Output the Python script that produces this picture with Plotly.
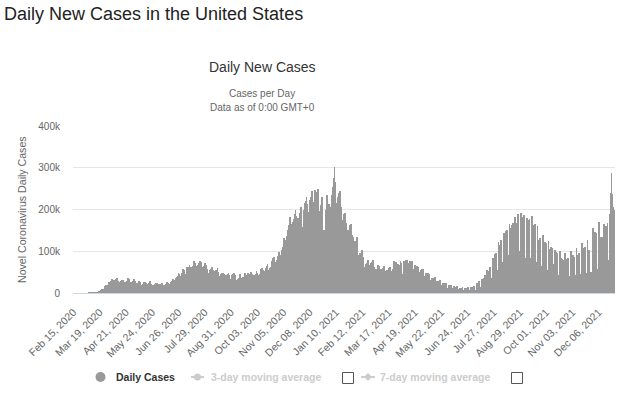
import pandas as pd
import plotly.graph_objects as go

# Daily new cases (thousands), Feb 15 2020 -> Dec 31 2020, one row per week starting Saturday
cases_2020_k = [
    0, 0, 0, 0, 0, 0, 0,
    0, 0, 0, 0, 0, 0, 0,
    0, 0, 0, 0, 0, 0.1, 0.1,
    0.1, 0.1, 0.2, 0.3, 0.4, 0.5, 0.7,
    0.8, 0.9, 1.2, 1.8, 2.8, 4.8, 5.6,
    6.9, 9.3, 10.5, 10.4, 12.1, 17.6, 19.2,
    19.8, 19.4, 21.4, 25.3, 26.8, 29.6, 32.5,
    34.2, 25.9, 30.5, 31.5, 32.5, 34.2, 35.1,
    29.9, 27.4, 25.4, 26.1, 29.7, 31.4, 32.1,
    30.8, 26.4, 27.5, 25.9, 29.1, 31.9, 36.9,
    34.0, 26.4, 22.4, 24.1, 27.3, 29.5, 33.1,
    29.2, 25.5, 22.3, 23.6, 25.0, 28.4, 27.6,
    25.6, 20.3, 19.1, 22.0, 21.2, 27.4, 25.5,
    24.9, 18.9, 22.6, 21.4, 23.6, 27.8, 24.7,
    21.7, 19.6, 19.4, 18.8, 21.8, 22.6, 24.5,
    23.3, 19.9, 21.3, 20.4, 19.7, 21.1, 24.0,
    22.6, 18.3, 18.8, 19.6, 22.0, 22.8, 25.6,
    24.4, 19.3, 20.4, 24.5, 27.1, 27.6, 32.4,
    29.4, 27.9, 32.2, 35.1, 38.2, 40.5, 47.3,
    44.5, 40.5, 41.9, 47.3, 51.7, 57.0, 56.1,
    46.0, 45.2, 52.3, 62.1, 62.0, 62.9, 68.2,
    61.1, 59.0, 61.5, 65.8, 70.2, 75.6, 71.5,
    64.4, 61.3, 64.9, 67.6, 71.0, 76.2, 74.3,
    67.0, 55.1, 61.1, 64.4, 71.3, 68.1, 66.7,
    58.1, 47.4, 47.3, 55.4, 54.4, 58.1, 62.5,
    55.8, 48.7, 45.9, 52.3, 55.8, 51.9, 60.6,
    50.1, 38.5, 39.8, 44.7, 47.4, 44.3, 47.9,
    44.5, 34.6, 36.6, 42.2, 43.3, 45.8, 47.6,
    43.9, 33.3, 33.2, 42.0, 42.5, 44.6, 48.9,
    43.2, 31.6, 25.0, 28.6, 34.2, 36.9, 45.6,
    39.4, 35.4, 35.7, 39.1, 38.7, 45.0, 47.5,
    42.0, 36.6, 48.1, 39.3, 39.3, 45.9, 50.2,
    45.4, 34.4, 37.6, 43.4, 40.7, 45.9, 52.0,
    49.1, 35.8, 43.8, 44.8, 50.8, 57.4, 58.7,
    54.5, 45.0, 41.7, 53.7, 59.3, 64.6, 68.5,
    54.2, 48.2, 60.4, 63.2, 62.7, 77.7, 83.8,
    85.3, 60.7, 67.1, 74.7, 79.5, 89.7, 98.2,
    83.5, 83.9, 91.5, 104.0, 109.2, 125.5, 131.4,
    127.3, 107.0, 136.3, 143.2, 150.5, 164.0, 182.0,
    163.0, 136.9, 165.4, 171.0, 176.3, 188.7, 199.6,
    185.0, 147.6, 178.9, 171.6, 191.4, 117.0, 206.0,
    157.5, 146.5, 186.0, 198.5, 216.5, 221.0, 231.0,
    213.0, 180.0, 195.0, 222.0, 226.0, 231.0, 244.0,
    217.0, 189.0, 200.0, 246.0, 238.0, 242.0, 250.0,
    195.0, 191.0, 197.0, 210.0, 230.0, 117.0, 99.0,
    152.0, 148.0, 199.0, 233.0, 235.0, 155.0,
]

# Daily new cases (thousands), Jan 1 2021 -> Dec 26 2021
cases_2021_k = [
    214.0,
    205, 190, 185, 235, 255, 275, 302,
    265, 215, 215, 230, 240, 238, 245,
    205, 145, 150, 175, 190, 192, 190,
    168, 130, 150, 147, 160, 163, 165,
    140, 110, 135, 118, 124, 123, 135,
    105, 88, 90, 96, 96, 104, 103,
    87, 62, 52, 60, 70, 72, 78,
    66, 55, 57, 72, 75, 78, 77,
    62, 50, 58, 57, 66, 67, 65,
    58, 42, 47, 57, 60, 64, 62,
    53, 38, 54, 55, 60, 59, 62,
    52, 37, 55, 58, 76, 70, 74,
    62, 42, 69, 64, 68, 77, 72,
    45, 38, 76, 64, 74, 78, 80,
    62, 45, 72, 76, 74, 77, 77,
    58, 40, 67, 61, 64, 65, 62,
    50, 32, 56, 51, 58, 57, 57,
    40, 27, 47, 45, 46, 47, 46,
    32, 21, 37, 34, 36, 37, 38,
    24, 16, 29, 27, 29, 31, 32,
    19, 12, 24, 22, 25, 25, 24,
    13, 9, 11, 20, 16, 18, 20,
    12, 8, 16, 14, 14, 15, 16,
    9, 7, 13, 12, 13, 13, 14,
    8, 6, 12, 13, 12, 13, 14,
    8, 6, 15, 12, 15, 15, 17,
    8, 5, 7, 25, 23, 24, 28,
    14, 10, 33, 31, 33, 37, 42,
    22, 17, 54, 42, 52, 62, 60,
    35, 28, 84, 66, 86, 93, 96,
    55, 45, 121, 95, 116, 126, 128,
    75, 60, 144, 118, 140, 148, 152,
    90, 75, 165, 140, 156, 162, 168,
    100, 85, 182, 150, 168, 178, 190,
    100, 85, 192, 160, 176, 183, 186,
    85, 70, 75, 180, 172, 175, 178,
    85, 70, 185, 152, 158, 162, 165,
    75, 60, 160, 122, 128, 132, 130,
    65, 50, 140, 112, 118, 122, 120,
    55, 42, 125, 100, 106, 110, 108,
    48, 38, 70, 103, 96, 98, 97,
    42, 32, 100, 78, 84, 82, 80,
    40, 30, 95, 72, 82, 84, 80,
    40, 30, 100, 74, 86, 90, 86,
    42, 32, 108, 80, 92, 95, 78,
    45, 34, 120, 90, 105, 108, 110,
    48, 36, 128, 100, 103, 35, 50,
    40, 32, 155, 110, 145, 147, 143,
    58, 45, 170, 118, 135, 133, 135,
    62, 50, 165, 150, 160, 160, 167,
    78, 65, 190, 240, 287, 238, 205,
    200, 198,
]

start_date = "2020-02-15"
x_tick_labels = [
    "Feb 15, 2020", "Mar 19, 2020", "Apr 21, 2020", "May 24, 2020", "Jun 26, 2020",
    "Jul 29, 2020", "Aug 31, 2020", "Oct 03, 2020", "Nov 05, 2020", "Dec 08, 2020",
    "Jan 10, 2021", "Feb 12, 2021", "Mar 17, 2021", "Apr 19, 2021", "May 22, 2021",
    "Jun 24, 2021", "Jul 27, 2021", "Aug 29, 2021", "Oct 01, 2021", "Nov 03, 2021",
    "Dec 06, 2021",
]
y_tick_values = [0, 100000, 200000, 300000, 400000]
y_tick_labels = ["0", "100k", "200k", "300k", "400k"]

values = [v * 1000 for v in cases_2020_k + cases_2021_k]
dates = pd.date_range(start_date, periods=len(values), freq="D")
tick_dates = pd.to_datetime(x_tick_labels, format="%b %d, %Y")

SANS = "Liberation Sans, Arial, sans-serif"

W, H = 624, 393
L, R, T, B = 73, 9, 126, 100
pw, ph = W - L - R, H - T - B


def px(x):
    return (x - L) / pw


def py(y):
    return (H - B - y) / ph


fig = go.Figure()
fig.add_trace(go.Bar(
    x=dates, y=values, marker=dict(color="#999999", line=dict(width=0)),
    name="Daily Cases", showlegend=False, hoverinfo="skip",
))

half_day = pd.Timedelta(hours=12)
fig.update_layout(
    width=W, height=H,
    margin=dict(l=L, r=R, t=T, b=B, pad=0),
    paper_bgcolor="white", plot_bgcolor="white",
    bargap=0, showlegend=False,
    xaxis=dict(
        type="date",
        range=[dates[0] - half_day, dates[-1] + half_day],
        tickvals=tick_dates, ticktext=x_tick_labels,
        tickangle=-45, ticks="", showgrid=False,
        showline=True, linecolor="#ccd6eb", linewidth=1,
        tickfont=dict(family=SANS, size=10.5, color="#666666"),
        ticklabelstandoff=8,
    ),
    yaxis=dict(
        range=[0, 400000],
        tickvals=y_tick_values, ticktext=y_tick_labels,
        showgrid=True, gridcolor="#e6e6e6", gridwidth=1,
        zeroline=False, ticks="",
        tickfont=dict(family=SANS, size=10, color="#666666"),
        ticklabelstandoff=12,
    ),
)

ann = [
    dict(text="Daily New Cases in the United States", x=px(2), y=py(14), xanchor="left",
         yanchor="middle", font=dict(family=SANS, size=18, color="#222222")),
    dict(text="Daily New Cases", x=px(262), y=py(67), xanchor="center", yanchor="middle",
         font=dict(family=SANS, size=14, color="#333333")),
    dict(text="Cases per Day", x=px(262), y=py(93), xanchor="center", yanchor="middle",
         font=dict(family=SANS, size=10, color="#666666")),
    dict(text="Data as of 0:00 GMT+0", x=px(262), y=py(107), xanchor="center", yanchor="middle",
         font=dict(family=SANS, size=10, color="#666666")),
    dict(text="Novel Coronavirus Daily Cases", x=px(22), y=py(210), xanchor="center",
         yanchor="middle", textangle=-90, font=dict(family=SANS, size=10.6, color="#666666")),
    dict(text="<b>Daily Cases</b>", x=px(114), y=py(377), xanchor="left", yanchor="middle",
         font=dict(family=SANS, size=10.5, color="#333333")),
    dict(text="<b>3-day moving average</b>", x=px(209), y=py(377), xanchor="left", yanchor="middle",
         font=dict(family=SANS, size=10.5, color="#cccccc")),
    dict(text="<b>7-day moving average</b>", x=px(378), y=py(377), xanchor="left", yanchor="middle",
         font=dict(family=SANS, size=10.5, color="#cccccc")),
]
for a in ann:
    a.update(xref="paper", yref="paper", showarrow=False)
fig.update_layout(annotations=ann)

shapes = [
    # Daily Cases legend symbol
    dict(type="circle", x0=px(95.5), x1=px(105.5), y0=py(372), y1=py(382),
         fillcolor="#999999", line=dict(width=0)),
    # 3-day legend symbol
    dict(type="line", x0=px(191), x1=px(204), y0=py(377), y1=py(377),
         line=dict(color="#cccccc", width=2)),
    dict(type="circle", x0=px(194), x1=px(201), y0=py(373.5), y1=py(380.5),
         fillcolor="#cccccc", line=dict(width=0)),
    # 7-day legend symbol
    dict(type="line", x0=px(361), x1=px(375), y0=py(377), y1=py(377),
         line=dict(color="#cccccc", width=2)),
    dict(type="path",
         path=f"M {px(368)},{py(373)} L {px(372)},{py(377)} L {px(368)},{py(381)} L {px(364)},{py(377)} Z",
         fillcolor="#cccccc", line=dict(width=0)),
    # checkboxes
    dict(type="rect", x0=px(342.5), x1=px(353.5), y0=py(372.5), y1=py(383.5),
         fillcolor="white", line=dict(color="#555555", width=1)),
    dict(type="rect", x0=px(511.5), x1=px(522.5), y0=py(372.5), y1=py(383.5),
         fillcolor="white", line=dict(color="#555555", width=1)),
]
for s in shapes:
    s.update(xref="paper", yref="paper")
fig.update_layout(shapes=shapes)

fig.write_html(
    "out.html",
    config={"displayModeBar": False},
    post_script="document.body.style.margin='0';document.body.style.overflow='hidden';",
)
